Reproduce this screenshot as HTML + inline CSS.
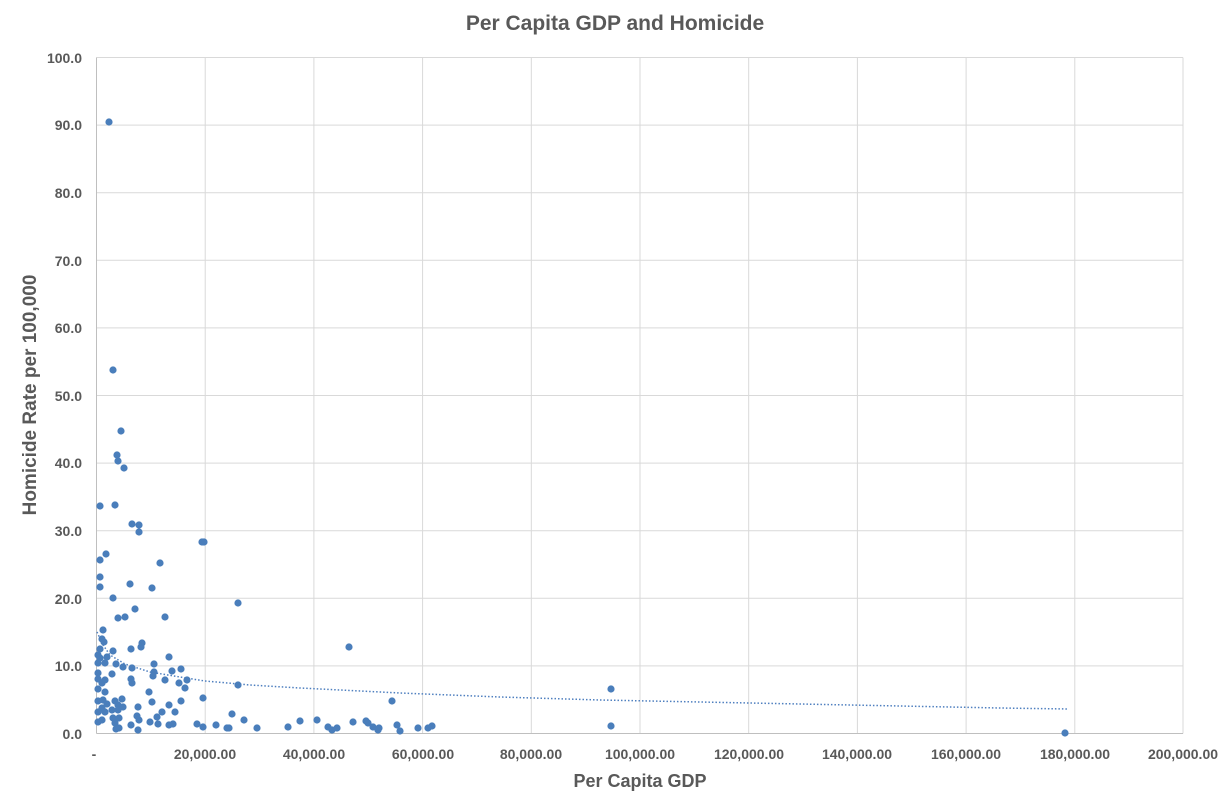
<!DOCTYPE html>
<html><head><meta charset="utf-8"><style>
html,body{margin:0;padding:0;background:#fff;}
svg{display:block;font-family:"Liberation Sans",sans-serif;}
</style></head><body>
<svg width="1229" height="807" viewBox="0 0 1229 807">
<rect width="1229" height="807" fill="#fff"/>
<text x="615" y="30" text-anchor="middle" font-size="21" font-weight="bold" fill="#595959">Per Capita GDP and Homicide</text>
<g stroke="#d9d9d9" stroke-width="1">
<line x1="96.5" y1="57.5" x2="1183" y2="57.5"/>
<line x1="96.5" y1="125.1" x2="1183" y2="125.1"/>
<line x1="96.5" y1="192.7" x2="1183" y2="192.7"/>
<line x1="96.5" y1="260.3" x2="1183" y2="260.3"/>
<line x1="96.5" y1="327.9" x2="1183" y2="327.9"/>
<line x1="96.5" y1="395.5" x2="1183" y2="395.5"/>
<line x1="96.5" y1="463.1" x2="1183" y2="463.1"/>
<line x1="96.5" y1="530.7" x2="1183" y2="530.7"/>
<line x1="96.5" y1="598.3" x2="1183" y2="598.3"/>
<line x1="96.5" y1="665.9" x2="1183" y2="665.9"/>
<line x1="205.2" y1="57.5" x2="205.2" y2="733.5"/>
<line x1="313.9" y1="57.5" x2="313.9" y2="733.5"/>
<line x1="422.6" y1="57.5" x2="422.6" y2="733.5"/>
<line x1="531.3" y1="57.5" x2="531.3" y2="733.5"/>
<line x1="640" y1="57.5" x2="640" y2="733.5"/>
<line x1="748.7" y1="57.5" x2="748.7" y2="733.5"/>
<line x1="857.4" y1="57.5" x2="857.4" y2="733.5"/>
<line x1="966.1" y1="57.5" x2="966.1" y2="733.5"/>
<line x1="1074.8" y1="57.5" x2="1074.8" y2="733.5"/>
<line x1="1183" y1="57.5" x2="1183" y2="733.5"/>
</g>
<g stroke="#bfbfbf" stroke-width="1">
<line x1="96.5" y1="57.5" x2="96.5" y2="733.5"/>
<line x1="96.5" y1="733.5" x2="1183" y2="733.5"/>
</g>
<g font-size="14" font-weight="bold" fill="#595959" text-anchor="end">
<text x="82" y="63">100.0</text><text x="82" y="130">90.0</text><text x="82" y="198">80.0</text>
<text x="82" y="266">70.0</text><text x="82" y="333">60.0</text><text x="82" y="401">50.0</text>
<text x="82" y="468">40.0</text><text x="82" y="536">30.0</text><text x="82" y="604">20.0</text>
<text x="82" y="671">10.0</text><text x="82" y="739">0.0</text>
</g>
<g font-size="14" font-weight="bold" fill="#595959" text-anchor="middle">
<text x="94" y="759">-</text><text x="205" y="759">20,000.00</text><text x="314" y="759">40,000.00</text>
<text x="423" y="759">60,000.00</text><text x="531" y="759">80,000.00</text><text x="640" y="759">100,000.00</text>
<text x="749" y="759">120,000.00</text><text x="857" y="759">140,000.00</text><text x="966" y="759">160,000.00</text>
<text x="1075" y="759">180,000.00</text><text x="1183" y="759">200,000.00</text>
</g>
<text x="640" y="787" text-anchor="middle" font-size="18" font-weight="bold" fill="#595959">Per Capita GDP</text>
<text transform="translate(36,395) rotate(-90)" text-anchor="middle" font-size="19" font-weight="bold" fill="#595959">Homicide Rate per 100,000</text>
<path d="M97,632 L103,645 L110,655 L125,664 L150,672 L180,677 L205,681 L250,685 L300,688 L400,693 L500,697 L600,700 L700,702 L800,704 L900,706 L1000,708 L1068,709" fill="none" stroke="#4e7fbf" stroke-width="1.5" stroke-dasharray="1.5 2"/>
<g fill="#4a7ebb">
<circle cx="109" cy="122" r="3.6"/><circle cx="113" cy="370" r="3.6"/><circle cx="121" cy="431" r="3.6"/><circle cx="117" cy="455" r="3.6"/><circle cx="118" cy="461" r="3.6"/><circle cx="124" cy="468" r="3.6"/>
<circle cx="100" cy="506" r="3.6"/><circle cx="115" cy="505" r="3.6"/><circle cx="132" cy="524" r="3.6"/><circle cx="139" cy="525" r="3.6"/><circle cx="139" cy="532" r="3.6"/><circle cx="202" cy="542" r="3.6"/><circle cx="204" cy="542" r="3.6"/>
<circle cx="100" cy="560" r="3.6"/><circle cx="106" cy="554" r="3.6"/><circle cx="160" cy="563" r="3.6"/><circle cx="100" cy="577" r="3.6"/><circle cx="100" cy="587" r="3.6"/><circle cx="130" cy="584" r="3.6"/><circle cx="152" cy="588" r="3.6"/>
<circle cx="113" cy="598" r="3.6"/><circle cx="238" cy="603" r="3.6"/><circle cx="135" cy="609" r="3.6"/><circle cx="118" cy="618" r="3.6"/><circle cx="125" cy="617" r="3.6"/><circle cx="165" cy="617" r="3.6"/>
<circle cx="103" cy="630" r="3.6"/><circle cx="102" cy="639" r="3.6"/><circle cx="104" cy="642" r="3.6"/><circle cx="142" cy="643" r="3.6"/><circle cx="141" cy="647" r="3.6"/><circle cx="131" cy="649" r="3.6"/><circle cx="113" cy="651" r="3.6"/><circle cx="100" cy="649" r="3.6"/>
<circle cx="98" cy="655" r="3.6"/><circle cx="107" cy="657" r="3.6"/><circle cx="169" cy="657" r="3.6"/><circle cx="100" cy="658" r="3.6"/><circle cx="98" cy="663" r="3.6"/><circle cx="105" cy="663" r="3.6"/><circle cx="116" cy="664" r="3.6"/><circle cx="154" cy="664" r="3.6"/>
<circle cx="123" cy="667" r="3.6"/><circle cx="132" cy="668" r="3.6"/><circle cx="181" cy="669" r="3.6"/><circle cx="172" cy="671" r="3.6"/><circle cx="154" cy="672" r="3.6"/><circle cx="112" cy="674" r="3.6"/><circle cx="98" cy="673" r="3.6"/><circle cx="153" cy="676" r="3.6"/>
<circle cx="98" cy="679" r="3.6"/><circle cx="105" cy="680" r="3.6"/><circle cx="131" cy="679" r="3.6"/><circle cx="165" cy="680" r="3.6"/><circle cx="187" cy="680" r="3.6"/><circle cx="238" cy="685" r="3.6"/><circle cx="179" cy="683" r="3.6"/><circle cx="132" cy="683" r="3.6"/><circle cx="102" cy="683" r="3.6"/>
<circle cx="98" cy="689" r="3.6"/><circle cx="105" cy="692" r="3.6"/><circle cx="185" cy="688" r="3.6"/><circle cx="149" cy="692" r="3.6"/><circle cx="203" cy="698" r="3.6"/><circle cx="98" cy="701" r="3.6"/><circle cx="103" cy="700" r="3.6"/><circle cx="115" cy="701" r="3.6"/><circle cx="122" cy="699" r="3.6"/>
<circle cx="152" cy="702" r="3.6"/><circle cx="181" cy="701" r="3.6"/><circle cx="107" cy="704" r="3.6"/><circle cx="118" cy="705" r="3.6"/><circle cx="123" cy="707" r="3.6"/><circle cx="169" cy="705" r="3.6"/><circle cx="138" cy="707" r="3.6"/><circle cx="102" cy="708" r="3.6"/>
<circle cx="112" cy="710" r="3.6"/><circle cx="98" cy="712" r="3.6"/><circle cx="105" cy="712" r="3.6"/><circle cx="118" cy="710" r="3.6"/><circle cx="175" cy="712" r="3.6"/><circle cx="162" cy="712" r="3.6"/><circle cx="232" cy="714" r="3.6"/><circle cx="137" cy="716" r="3.6"/>
<circle cx="157" cy="717" r="3.6"/><circle cx="113" cy="718" r="3.6"/><circle cx="119" cy="718" r="3.6"/><circle cx="102" cy="720" r="3.6"/><circle cx="139" cy="720" r="3.6"/><circle cx="244" cy="720" r="3.6"/><circle cx="98" cy="722" r="3.6"/><circle cx="150" cy="722" r="3.6"/>
<circle cx="158" cy="724" r="3.6"/><circle cx="115" cy="723" r="3.6"/><circle cx="131" cy="725" r="3.6"/><circle cx="169" cy="725" r="3.6"/><circle cx="173" cy="724" r="3.6"/><circle cx="197" cy="724" r="3.6"/><circle cx="203" cy="727" r="3.6"/><circle cx="216" cy="725" r="3.6"/>
<circle cx="227" cy="728" r="3.6"/><circle cx="229" cy="728" r="3.6"/><circle cx="257" cy="728" r="3.6"/><circle cx="116" cy="729" r="3.6"/><circle cx="119" cy="728" r="3.6"/><circle cx="138" cy="730" r="3.6"/>
<circle cx="288" cy="727" r="3.6"/><circle cx="300" cy="721" r="3.6"/><circle cx="317" cy="720" r="3.6"/><circle cx="328" cy="727" r="3.6"/><circle cx="332" cy="730" r="3.6"/><circle cx="337" cy="728" r="3.6"/><circle cx="349" cy="647" r="3.6"/><circle cx="353" cy="722" r="3.6"/>
<circle cx="366" cy="721" r="3.6"/><circle cx="368" cy="723" r="3.6"/><circle cx="373" cy="727" r="3.6"/><circle cx="378" cy="730" r="3.6"/><circle cx="379" cy="728" r="3.6"/><circle cx="392" cy="701" r="3.6"/><circle cx="397" cy="725" r="3.6"/><circle cx="400" cy="731" r="3.6"/>
<circle cx="418" cy="728" r="3.6"/><circle cx="428" cy="728" r="3.6"/><circle cx="432" cy="726" r="3.6"/><circle cx="611" cy="689" r="3.6"/><circle cx="611" cy="726" r="3.6"/><circle cx="1065" cy="733" r="3.6"/>
</g>
</svg>
</body></html>
